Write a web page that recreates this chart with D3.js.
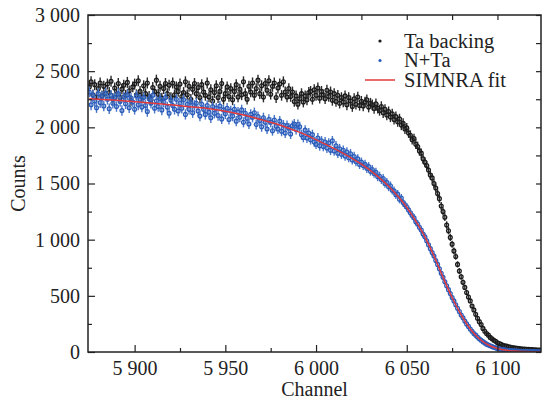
<!DOCTYPE html>
<html>
<head>
<meta charset="utf-8">
<script src="https://cdn.jsdelivr.net/npm/d3@7"></script>
<style>
  body { margin: 0; background: #fff; }
  text { font-family: "Liberation Serif", "Times New Roman", serif; fill: #222; }
</style>
</head>
<body>
<svg class="chart"></svg>
<script>
// first channel of both spectra, one count per channel after it
var firstChannel = 5875;

// Ta backing (black)
var taBacking = [
  2360, 2405, 2290, 2380, 2270, 2345, 2395, 2280, 2365, 2300,
  2385, 2310, 2410, 2255, 2350, 2295, 2390, 2265, 2340, 2375,
  2285, 2400, 2325, 2240, 2360, 2385, 2290, 2415, 2320, 2270,
  2370, 2300, 2395, 2275, 2245, 2355, 2320, 2420, 2295, 2365,
  2260, 2345, 2390, 2300, 2375, 2265, 2395, 2290, 2360, 2320,
  2385, 2275, 2310, 2405, 2290, 2365, 2250, 2340, 2390, 2300,
  2355, 2265, 2380, 2315, 2285, 2395, 2270, 2335, 2235, 2310,
  2370, 2265, 2320, 2390, 2250, 2300, 2360, 2275, 2345, 2245,
  2320, 2380, 2270, 2340, 2290, 2405, 2300, 2250, 2365, 2315,
  2395, 2285, 2345, 2420, 2300, 2370, 2270, 2390, 2330, 2415,
  2295, 2365, 2395, 2265, 2350, 2385, 2285, 2405, 2315, 2270,
  2345, 2275, 2315, 2230, 2280, 2205, 2255, 2300, 2225, 2280,
  2245, 2310, 2320, 2250, 2335, 2285, 2350, 2260, 2320, 2290,
  2255, 2330, 2275, 2315, 2240, 2300, 2230, 2285, 2215, 2265,
  2225, 2280, 2200, 2265, 2235, 2185, 2255, 2205, 2270, 2195,
  2232, 2190, 2225, 2245, 2180, 2215, 2200, 2168, 2210, 2170,
  2150, 2185, 2130, 2160, 2110, 2140, 2092, 2120, 2070, 2095,
  2050, 2075, 2020, 2035, 1985, 1995, 1950, 1930, 1890, 1900,
  1850, 1830, 1790, 1770, 1720, 1690, 1660, 1620, 1575, 1550,
  1500, 1460, 1410, 1365, 1300, 1250, 1200, 1130, 1080, 1020,
  960, 900, 850, 780, 720, 670, 620, 575, 530, 490,
  455, 410, 375, 335, 300, 270, 245, 210, 185, 165,
  150, 130, 118, 105, 95, 82, 75, 68, 60, 55,
  52, 47, 44, 40, 38, 35, 33, 30, 29, 27,
  26, 24, 23, 22, 21, 20, 19, 18, 18, 17
];

// N+Ta (blue)
var nTa = [
  2315, 2200, 2285, 2235, 2175, 2300, 2220, 2275, 2190, 2305,
  2250, 2165, 2285, 2215, 2265, 2185, 2300, 2230, 2150, 2270,
  2210, 2290, 2175, 2260, 2225, 2160, 2280, 2200, 2250, 2180,
  2265, 2195, 2140, 2255, 2215, 2285, 2170, 2235, 2185, 2255,
  2155, 2225, 2265, 2180, 2125, 2240, 2195, 2160, 2250, 2145,
  2215, 2170, 2245, 2115, 2205, 2160, 2225, 2130, 2195, 2215,
  2145, 2100, 2205, 2160, 2115, 2195, 2135, 2085, 2185, 2125,
  2170, 2105, 2190, 2075, 2155, 2120, 2170, 2070, 2145, 2100,
  2160, 2055, 2135, 2090, 2155, 2045, 2125, 2080, 2030, 2115,
  2090, 2130, 2025, 2095, 2060, 2005, 2085, 2045, 1985, 2070,
  2045, 1970, 2065, 2010, 1985, 2055, 1965, 2020, 1950, 2015,
  1995, 1940, 2015, 2030, 1980, 2025, 2005, 1935, 1910, 1975,
  1905, 1950, 1890, 1935, 1870, 1850, 1905, 1835, 1880, 1830,
  1870, 1815, 1860, 1795, 1880, 1790, 1835, 1770, 1810, 1760,
  1795, 1745, 1780, 1730, 1765, 1710, 1740, 1695, 1720, 1670,
  1690, 1660, 1670, 1635, 1650, 1610, 1625, 1590, 1600, 1560,
  1565, 1535, 1545, 1500, 1510, 1470, 1480, 1440, 1435, 1400,
  1405, 1360, 1370, 1330, 1310, 1290, 1265, 1240, 1215, 1195,
  1160, 1140, 1110, 1085, 1050, 1025, 990, 955, 920, 885,
  855, 815, 780, 740, 700, 665, 625, 590, 555, 520,
  485, 455, 420, 390, 360, 330, 305, 275, 250, 228,
  205, 185, 165, 150, 133, 118, 105, 92, 81, 70,
  62, 55, 48, 42, 37, 32, 28, 25, 22, 19,
  16, 14, 13, 11, 10, 8, 8, 7, 6, 5,
  5, 4, 4, 3, 3, 3, 2, 2, 2, 2
];

// SIMNRA fit, every 5 channels
var fitChannels = [5875, 5880, 5885, 5890, 5895, 5900, 5905, 5910, 5915, 5920,
  5925, 5930, 5935, 5940, 5945, 5950, 5955, 5960, 5965, 5970,
  5975, 5980, 5985, 5990, 5995, 6000, 6005, 6010, 6015, 6020,
  6025, 6030, 6035, 6040, 6045, 6050, 6055, 6060, 6065, 6070,
  6075, 6080, 6085, 6090, 6095, 6100, 6105, 6110, 6115, 6120, 6125];
var fitCounts = [2255, 2250, 2245, 2240, 2235, 2228, 2222, 2215, 2208, 2200,
  2192, 2184, 2176, 2168, 2157, 2144, 2128, 2110, 2090, 2068,
  2045, 2020, 1992, 1962, 1928, 1890, 1850, 1810, 1768, 1722,
  1672, 1615, 1550, 1475, 1388, 1288, 1165, 1025, 855, 665,
  485, 330, 205, 118, 62, 32, 16, 8, 5, 3, 2];

var xTicks = [5900, 5950, 6000, 6050, 6100];
var yTicks = [0, 500, 1000, 1500, 2000, 2500, 3000];
var legendLabels = ["Ta backing", "N+Ta", "SIMNRA fit"];

window.onload = function () {
  var W = 543, H = 401;
  var margin = {top: 15, right: 2, bottom: 49, left: 88};
  var width = W - margin.left - margin.right;
  var height = H - margin.top - margin.bottom;

  var black = "#1a1a1a", blue = "#2a5cba", red = "#e23a3c";

  var svg = d3.select(".chart").attr("width", W).attr("height", H);
  var g = svg.append("g").attr("transform", "translate(" + margin.left + "," + margin.top + ")");

  var x = d3.scaleLinear().domain([5874.3, 6124]).range([0, width]);
  var y = d3.scaleLinear().domain([0, 3000]).range([height, 0]);

  var fmt = d3.formatLocale({decimal: ".", thousands: " ", grouping: [3], currency: ["", ""]}).format(",d");

  g.append("clipPath").attr("id", "plotclip")
    .append("rect").attr("width", width).attr("height", height);

  function series(arr) {
    return arr.map(function (v, i) { return {c: firstChannel + i, v: v}; });
  }

  function drawPoints(data, col, barCol) {
    var grp = g.append("g").attr("clip-path", "url(#plotclip)");
    var pts = grp.selectAll("g").data(data).enter().append("g");
    pts.append("line")
      .attr("x1", function (d) { return x(d.c); })
      .attr("x2", function (d) { return x(d.c); })
      .attr("y1", function (d) { return y(d.v - Math.sqrt(d.v)); })
      .attr("y2", function (d) { return y(d.v + Math.sqrt(d.v)); })
      .attr("stroke", barCol).attr("stroke-width", 1.4);
    pts.append("circle")
      .attr("cx", function (d) { return x(d.c); })
      .attr("cy", function (d) { return y(d.v); })
      .attr("r", 1.9)
      .attr("fill", "none")
      .attr("stroke", col).attr("stroke-width", 1.3);
  }

  drawPoints(series(taBacking), black, "#2a2a2a");
  drawPoints(series(nTa), blue, "#4a76c8");

  var fit = fitChannels.map(function (c, i) { return {c: c, v: fitCounts[i]}; });
  g.append("path").datum(fit)
    .attr("clip-path", "url(#plotclip)")
    .attr("fill", "none").attr("stroke", red).attr("stroke-width", 1.5)
    .attr("d", d3.line().curve(d3.curveMonotoneX)
      .x(function (d) { return x(d.c); })
      .y(function (d) { return y(d.v); }));

  // axes, ticks inward
  var xMinor = [5925, 5975, 6025, 6075];
  var yMinor = [250, 750, 1250, 1750, 2250, 2750];

  g.append("g").attr("transform", "translate(0," + height + ")")
    .call(d3.axisBottom(x).tickValues(xTicks).tickFormat(fmt).tickSizeInner(-7).tickSizeOuter(0).tickPadding(9));
  g.append("g").attr("transform", "translate(0," + height + ")")
    .call(d3.axisBottom(x).tickValues(xMinor).tickFormat("").tickSizeInner(-4).tickSizeOuter(0));
  g.append("g")
    .call(d3.axisLeft(y).tickValues(yTicks).tickFormat(fmt).tickSizeInner(-7).tickSizeOuter(0).tickPadding(8));
  g.append("g")
    .call(d3.axisLeft(y).tickValues(yMinor).tickFormat("").tickSizeInner(-4).tickSizeOuter(0));
  g.append("g")
    .call(d3.axisTop(x).tickValues(xTicks.concat(xMinor)).tickFormat("").tickSizeInner(-5).tickSizeOuter(0));
  g.append("g").attr("transform", "translate(" + width + ",0)")
    .call(d3.axisRight(y).tickValues(yTicks.concat(yMinor)).tickFormat("").tickSizeInner(-5).tickSizeOuter(0));

  g.selectAll(".domain").remove();
  g.selectAll(".tick line").attr("stroke", "#222").attr("stroke-width", 1.2);
  g.selectAll(".tick text").style("font-size", "20px").attr("fill", "#222");

  g.append("rect").attr("width", width).attr("height", height)
    .attr("fill", "none").attr("stroke", "#222").attr("stroke-width", 1.5);

  svg.append("text")
    .attr("x", margin.left + width / 2).attr("y", 396)
    .attr("text-anchor", "middle").style("font-size", "20px")
    .text("Channel");
  svg.append("text")
    .attr("transform", "translate(25," + (margin.top + height / 2) + ") rotate(-90)")
    .attr("text-anchor", "middle").style("font-size", "20px")
    .text("Counts");

  // legend
  var legend = svg.append("g").attr("transform", "translate(380,41)");
  var rows = legend.selectAll("g").data(legendLabels).enter().append("g")
    .attr("transform", function (d, i) { return "translate(0," + (i * 19.5) + ")"; });
  rows.append("text").attr("x", 24).attr("dy", "0.33em")
    .style("font-size", "20.5px").text(function (d) { return d; });
  rows.filter(function (d, i) { return i < 2; }).append("circle")
    .attr("r", 1.6).attr("fill", function (d, i) { return i === 0 ? black : blue; });
  rows.filter(function (d, i) { return i === 2; }).append("line")
    .attr("x1", -15).attr("x2", 15).attr("stroke", red).attr("stroke-width", 1.5);
};
</script>
</body>
</html>
